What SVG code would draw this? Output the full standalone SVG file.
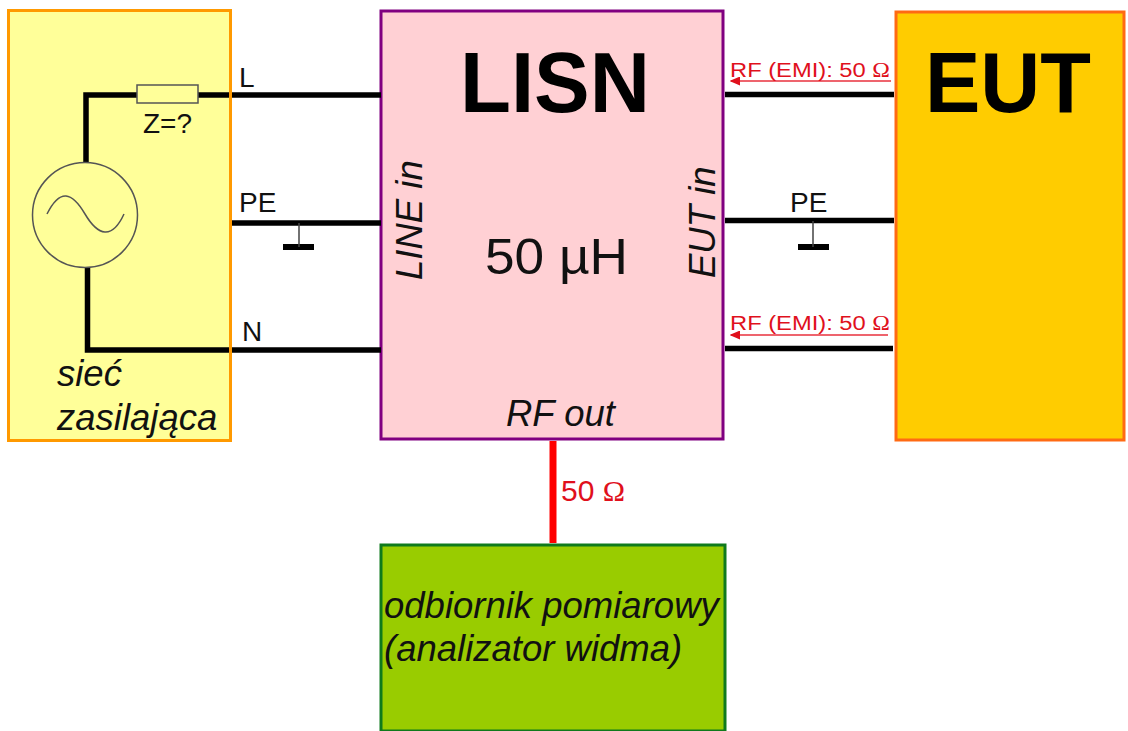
<svg xmlns="http://www.w3.org/2000/svg" width="1128" height="731" viewBox="0 0 1128 731">
<style>
text{font-family:"Liberation Sans",Arial,sans-serif;fill:#111}
.w{fill:none;stroke:#000;stroke-width:5.500}
.t{fill:none;stroke:#444;stroke-width:1.500}
.g{fill:none;stroke:#000;stroke-width:6}
.l{font-size:28px}
.r{fill:#e0101c;font-size:20px}
.a{fill:none;stroke:#e8303c;stroke-width:1.500}
.i{font-style:italic;font-size:36.500px}
.b{font-size:86px;font-weight:bold;fill:#000}
.o{font-family:"Liberation Serif",serif}
</style>
<defs><marker id="ah" markerWidth="8" markerHeight="6" refX="1" refY="3" orient="auto"><path d="M7 0L0 3L7 6Z" fill="#e0101c"/></marker></defs>
<g id="siec"><rect x="8.500" y="10.500" width="222" height="430" fill="#ffff99"/>
<text class="i" x="57" y="386">sieć</text><text class="i" x="57" y="430">zasilająca</text></g>
<g id="lisn"><rect x="381" y="11" width="342" height="428" fill="#ffd0d4" stroke="#800080" stroke-width="3"/>
<text class="b" x="460" y="112" textLength="190" lengthAdjust="spacingAndGlyphs">LISN</text>
<text x="485" y="274" font-size="50" textLength="143" lengthAdjust="spacingAndGlyphs">50 µH</text>
<text class="i" transform="translate(422 280) rotate(-90)">LINE in</text>
<text class="i" transform="translate(715 278) rotate(-90)">EUT in</text>
<text class="i" x="506" y="426">RF out</text></g>
<g id="eut"><rect x="896" y="12" width="228" height="428" fill="#ffcc00" stroke="#ff6a13" stroke-width="3"/>
<text class="b" x="925" y="112" textLength="166" lengthAdjust="spacingAndGlyphs">EUT</text></g>
<g id="odbiornik"><rect x="381" y="545" width="344" height="186" fill="#99cc00" stroke="#0f7a1c" stroke-width="3"/>
<text class="i" x="384" y="618">odbiornik pomiarowy</text>
<text class="i" x="384" y="661">(analizator widma)</text></g>
<g id="connectors">
<path class="w" d="M86 163V95H137M198 95H381M232 223H381M87.500 268V350H381M725 94.500H894M725 220.500H894M725 348.500H893"/>
<path class="g" d="M283 247H314M798 247H829"/>
<path class="t" d="M299 223V247M813 221V247"/>
<path d="M553 441V543" fill="none" stroke="#ff0000" stroke-width="7"/>
<path class="a" marker-start="url(#ah)" d="M731 81H891"/>
<path class="a" marker-start="url(#ah)" d="M731 335H888"/>
</g>
<g id="siec-border"><rect x="8.500" y="10.500" width="222" height="430" fill="none" stroke="#ff9900" stroke-width="3"/></g>
<g id="source"><circle cx="85" cy="215" r="52.500" fill="#ffff99" stroke="#555" stroke-width="1.500"/>
<path d="M47 214C60 188 72 192 85 214S112 240 124 214" fill="none" stroke="#555" stroke-width="1.500"/></g>
<g id="impedance"><rect x="137" y="85" width="61" height="18" fill="#ffff99" stroke="#555" stroke-width="1.500"/></g>
<g id="labels">
<text class="l" x="143" y="133">Z=?</text>
<text class="l" x="239" y="87">L</text>
<text class="l" x="239" y="212">PE</text>
<text class="l" x="242" y="341">N</text>
<text class="l" x="790" y="212">PE</text>
<text class="r" x="730" y="77" textLength="160" lengthAdjust="spacingAndGlyphs">RF (EMI): 50 <tspan class="o">Ω</tspan></text>
<text class="r" x="730" y="330" textLength="160" lengthAdjust="spacingAndGlyphs">RF (EMI): 50 <tspan class="o">Ω</tspan></text>
<text x="561" y="501" font-size="30" style="fill:#e0101c">50 <tspan class="o">Ω</tspan></text>
</g>
</svg>
